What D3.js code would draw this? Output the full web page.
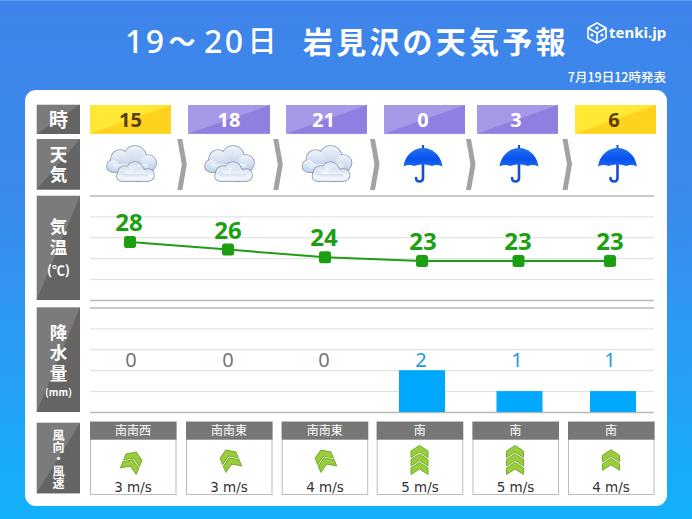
<!doctype html>
<html>
<head>
<meta charset="utf-8">
<style>
    html, body { margin: 0; padding: 0; background: #2f95f0; overflow: hidden; }
    svg { display: block; }
    text { font-family: "Noto Sans CJK JP", "Noto Sans", sans-serif; text-anchor: middle; }
</style>
<script src="https://d3js.org/d3.v7.min.js"></script>
</head>
<body>
<svg width="692" height="519"></svg>
<script>

// values
const hours = [15, 18, 21, 0, 3, 6];
const daytime = [true, false, false, false, false, true];
const weather = ["cloud", "cloud", "cloud", "rain", "rain", "rain"];
const temps = [28, 26, 24, 23, 23, 23];
const precip = [0, 0, 0, 2, 1, 1];
const windDir = ["南南西", "南南東", "南南東", "南", "南", "南"];
const windSpeed = [3, 3, 4, 5, 5, 4];

const svg = d3.select("svg");
const defs = svg.append("defs");

function gradient(id, stops, x2, y2) {
    const g = defs.append("linearGradient").attr("id", id)
        .attr("x1", 0).attr("y1", 0).attr("x2", x2).attr("y2", y2);
    stops.forEach(s => g.append("stop").attr("offset", s[0]).attr("stop-color", s[1]));
}
gradient("bg", [[0, "#3f84ea"], [0.4, "#3a8bec"], [1, "#13b1fc"]], 0, 1);
gradient("cloudBack", [[0, "#f2f5fb"], [1, "#bccde6"]], 0, 1);
gradient("cloudFront", [[0, "#d3dff0"], [0.6, "#f6f8fc"], [1, "#e4ebf5"]], 0, 1);
gradient("canopy", [[0, "#1f74f0"], [0.6, "#0a4ff0"], [1, "#1a6cf2"]], 0, 1);

svg.append("rect").attr("width", 692).attr("height", 519).attr("fill", "url(#bg)");
svg.append("rect").attr("width", 692).attr("height", 1).attr("fill", "#5f9cf0");
svg.append("rect").attr("x", 25).attr("y", 90).attr("width", 642).attr("height", 416)
    .attr("rx", 11).attr("fill", "#fff");

// title
function titleDigits(x, str) {
    svg.append("text").attr("x", x).attr("y", 53).attr("fill", "#fff")
        .style("text-anchor", "start").style("font-family", "'Noto Sans'")
        .style("font-size", "32px").style("font-weight", 500)
        .style("letter-spacing", "2.5px").text(str);
}
titleDigits(125, "19");
titleDigits(204, "20");
svg.append("text").attr("x", 182).attr("y", 52).attr("fill", "#fff")
    .style("font-size", "27px").style("font-weight", 700).text("〜");
svg.append("text").attr("x", 262).attr("y", 52).attr("fill", "#fff")
    .style("font-size", "29px").style("font-weight", 500).text("日");
svg.append("text").attr("x", 303).attr("y", 52.5).attr("fill", "#fff")
    .style("text-anchor", "start").style("font-size", "30px").style("font-weight", 700)
    .style("letter-spacing", "3.2px").text("岩見沢の天気予報");
svg.append("text").attr("x", 666).attr("y", 82).attr("fill", "#fff")
    .style("text-anchor", "end").style("font-size", "12.5px").style("font-weight", 500)
    .text("7月19日12時発表");

// logo
const logo = svg.append("g").attr("transform", "translate(597,33)");
logo.append("path").attr("d", "M0,-10 L9,-5 L9,5 L0,10 L-9,5 L-9,-5 Z M-9,-5 L0,0 L9,-5 M0,0 L0,10")
    .attr("fill", "none").attr("stroke", "#fff").attr("stroke-width", 1.6).attr("stroke-linejoin", "round");
logo.selectAll("circle").data([[0, -5], [-5, 2], [5, 2]]).enter().append("circle")
    .attr("cx", d => d[0]).attr("cy", d => d[1]).attr("r", 1.6).attr("fill", "#fff");
svg.append("text").attr("x", 609).attr("y", 38).attr("fill", "#fff")
    .style("text-anchor", "start").style("font-family", "'Noto Sans'").style("font-size", "15px")
    .style("font-weight", 700).text("tenki.jp");

// two tone box used for the row heads and the hour cells
function toneBox(x0, x1, y0, y1, light, dark) {
    svg.append("rect").attr("x", x0).attr("y", y0).attr("width", x1 - x0).attr("height", y1 - y0).attr("fill", light);
    svg.append("path").attr("d", d3.line()([[x0, y1], [x1, y0], [x1, y1]]) + "Z").attr("fill", dark);
}

// row heads
const headRows = [[104.7, 134], [139, 189.5], [195.7, 300], [307.3, 412], [422.7, 493.3]];
headRows.forEach(r => toneBox(36.7, 80, r[0], r[1], "#7b7b7b", "#646464"));

const headLabels = [["時", 120, 19], ["(℃)", 270, 13], ["(mm)", 392, 10]];
svg.append("g").selectAll("text").data(headLabels).enter().append("text")
    .attr("x", 58.5).attr("y", d => d[1]).attr("dy", "0.36em").attr("fill", "#fff")
    .style("font-size", d => d[2] + "px").style("font-weight", 700).text(d => d[0]);

// stacked heads run as one vertical text
const headStacks = [["天気", 165.5, 17.5, 2.5], ["気温", 239, 17.5, 4], ["降水量", 354, 17.5, 3], ["風向・風速", 459, 12, 0]];
svg.append("g").selectAll("text").data(headStacks).enter().append("text")
    .attr("x", 58.5).attr("y", d => d[1]).attr("fill", "#fff")
    .style("writing-mode", "vertical-rl").style("font-size", d => d[2] + "px")
    .style("letter-spacing", d => d[3] + "px").style("font-weight", 700).text(d => d[0]);

// hour cells
const cellLeft = d3.scaleOrdinal().domain(hours).range([90, 188, 286, 384, 477, 575]);
const cellRight = d3.scaleOrdinal().domain(hours).range([171, 270, 367, 465, 558, 656]);
const cellText = d3.scaleOrdinal().domain(hours).range([130.5, 229, 323.5, 423, 516, 614]);
hours.forEach((h, i) => {
    toneBox(cellLeft(h), cellRight(h), 105, 133.7,
        daytime[i] ? "#ffe935" : "#a898e8", daytime[i] ? "#ffd21f" : "#8f7fe0");
});
svg.append("g").selectAll("text").data(hours).enter().append("text")
    .attr("x", d => cellText(d)).attr("y", 120).attr("dy", "0.36em")
    .attr("fill", (d, i) => daytime[i] ? "#5c3d0a" : "#fff")
    .style("font-family", "'Noto Sans'").style("font-size", "20px").style("font-weight", 700)
    .text(d => d);

// chevrons between the weather icons
svg.append("g").selectAll("path").data([177.3, 273.3, 370, 466, 562.5]).enter().append("path")
    .attr("transform", d => "translate(" + d + ",139)")
    .attr("d", "M0,0 L5,0 L9.5,25.5 L5,51 L0,51 L4.5,25.5 Z").attr("fill", "#a2a2a2");

// weather icons
const iconX = d3.scaleOrdinal().domain(hours).range([131, 229, 326.5, 423, 519, 617.5]);

function puffs(g, list, base, fill) {
    g.selectAll(null).data(list).enter().append("circle")
        .attr("cx", d => d[0]).attr("cy", d => d[1]).attr("r", d => d[2] + 0.8)
        .attr("fill", "#8496ae");
    g.append("rect").attr("x", base[0]).attr("y", base[1] - 0.8).attr("width", base[2]).attr("height", base[3] + 1.6)
        .attr("fill", "#8496ae");
    g.selectAll(null).data(list).enter().append("circle")
        .attr("cx", d => d[0]).attr("cy", d => d[1]).attr("r", d => d[2])
        .attr("fill", fill);
    g.append("rect").attr("x", base[0]).attr("y", base[1]).attr("width", base[2]).attr("height", base[3])
        .attr("fill", fill);
}
function drawCloud(g) {
    puffs(g, [[4, -7, 11], [-11, -5, 9], [-18, 2, 6], [17, -1, 8]], [-18, 0, 35, 8], "url(#cloudBack)");
    puffs(g, [[4, 6, 8], [-6, 9, 7], [-9, 12, 5], [17, 11, 6], [8, 10, 7]], [-9, 10, 26, 7], "url(#cloudFront)");
}
function drawUmbrella(g) {
    g.append("path").attr("d", "M0,-19 L0,-15").attr("stroke", "#1550d8").attr("stroke-width", 2);
    g.append("path").attr("d", "M0,-2 L0,14 Q0,17.5 -3.5,17.5 Q-7,17.5 -7,14")
        .attr("fill", "none").attr("stroke", "#1a4fd0").attr("stroke-width", 2.6).attr("stroke-linecap", "round");
    g.append("path").attr("d", "M-19.5,2.5 C-18,-9 -9,-16 0,-16 C9,-16 18,-9 19.5,2.5 Q14,0 9,2 Q4,0 0,0.5 Q-4,0 -9,2 Q-14,0 -19.5,2.5 Z")
        .attr("fill", "url(#canopy)");
}
hours.forEach((h, i) => {
    const isCloud = weather[i] == "cloud";
    const g = svg.append("g").attr("transform", "translate(" + iconX(h) + "," + 164 + ")");
    if (isCloud) drawCloud(g); else drawUmbrella(g);
});

// grid lines for the two plot rows
const gridSteps = [0, 1, 2, 3, 4, 5];
const tempGrid = d3.scaleLinear().domain([0, 5]).range([300, 195.5]);
const rainY = d3.scaleLinear().domain([0, 5]).range([412, 307.5]);

function grid(scale) {
    const g = svg.append("g").attr("transform", "translate(90,0)")
        .call(d3.axisRight(scale).tickValues(gridSteps).tickSize(564).tickFormat(""));
    g.select(".domain").remove();
    g.selectAll(".tick line")
        .attr("stroke", d => (d == 0 || d == 5) ? "#b9b9b9" : "#dedede")
        .attr("stroke-width", d => (d == 0 || d == 5) ? 1.5 : 1);
}
grid(tempGrid);
grid(rainY);

// temperature
const tempX = d3.scaleOrdinal().domain(hours).range([130, 228, 325, 422, 518.5, 610]);
const tempLabelX = d3.scaleOrdinal().domain(hours).range([129, 228, 324, 423, 518, 610]);
const tempY = d3.scaleLinear().domain([23, 28]).range([261, 242]);
const green = "#1d9f12";

svg.append("path").datum(temps)
    .attr("fill", "none").attr("stroke", green).attr("stroke-width", 2)
    .attr("d", d3.line().x((d, i) => tempX(hours[i])).y(d => tempY(d)));
svg.append("g").selectAll("rect").data(temps).enter().append("rect")
    .attr("x", (d, i) => tempX(hours[i]) - 6).attr("y", d => tempY(d) - 6)
    .attr("width", 12).attr("height", 12).attr("rx", 2.5).attr("fill", green);
svg.append("g").selectAll("text").data(temps).enter().append("text")
    .attr("x", (d, i) => tempLabelX(hours[i])).attr("y", d => tempY(d) - 11)
    .attr("fill", green).style("font-family", "'Noto Sans'").style("font-size", "24px")
    .style("font-weight", 700).text(d => d);

// precipitation
const barX = d3.scaleOrdinal().domain(hours).range([131, 228, 324, 422, 519.5, 613]);
const rainLabelX = d3.scaleOrdinal().domain(hours).range([131, 228, 324, 421, 517, 610]);

svg.append("g").selectAll("rect").data(precip).enter().append("rect")
    .attr("x", (d, i) => barX(hours[i]) - 23).attr("y", d => rainY(d))
    .attr("width", 46).attr("height", d => rainY(0) - rainY(d)).attr("fill", "#00a8ff");
svg.append("g").selectAll("text").data(precip).enter().append("text")
    .attr("x", (d, i) => rainLabelX(hours[i])).attr("y", 367)
    .attr("fill", d => d > 0 ? "#1b9be0" : "#777")
    .style("font-family", "'Noto Sans'").style("font-size", "20px").style("font-weight", 400)
    .text(d => d);

// wind
const windLeft = d3.scaleOrdinal().domain(hours).range([90, 186, 281.7, 376.7, 472.5, 568]);
const windLabelX = d3.scaleOrdinal().domain(hours).range([133, 229, 325, 420, 515.5, 611]);
const arrowX = d3.scaleOrdinal().domain(hours).range([132, 230, 325, 419.5, 515, 611]);
const arrowY = d3.scaleOrdinal().domain(hours).range([462, 460, 460, 460.5, 460.5, 460.5]);
const dirAngle = { "南南西": 22.5, "南南東": -22.5, "南": 0 };
const chevron = "M0,-6.5 L8.5,-1 L8.5,5.5 L0,0 L-8.5,5.5 L-8.5,-1 Z";

hours.forEach((h, i) => {
    const x = windLeft(h);
    svg.append("rect").attr("x", x + 0.5).attr("y", 422).attr("width", 85.5).attr("height", 72.5)
        .attr("fill", "#fff").attr("stroke", "#bcbcbc");
    svg.append("rect").attr("x", x).attr("y", 421.7).attr("width", 86.5).attr("height", 18).attr("fill", "#777");
    svg.append("text").attr("x", x + 43).attr("y", 431).attr("dy", "0.36em").attr("fill", "#fff")
        .style("font-size", "12px").text(windDir[i]);
    svg.append("text").attr("x", windLabelX(h)).attr("y", 492).attr("fill", "#333")
        .style("font-family", "'DejaVu Sans'").style("font-size", "13.5px").text(windSpeed[i] + " m/s");

    // stronger wind gets one more chevron
    const n = windSpeed[i] >= 5 ? 3 : 2;
    const arrow = svg.append("g")
        .attr("transform", "translate(" + arrowX(h) + "," + arrowY(h) + ") rotate(" + dirAngle[windDir[i]] + ")");
    d3.range(n).forEach(k => {
        arrow.append("path").attr("d", chevron)
            .attr("transform", "translate(0," + ((k - (n - 1) / 2) * 8.5) + ")")
            .attr("fill", "#9ccc3c").attr("stroke", "#6fae2a").attr("stroke-width", 1);
    });
});

</script>
</body>
</html>
